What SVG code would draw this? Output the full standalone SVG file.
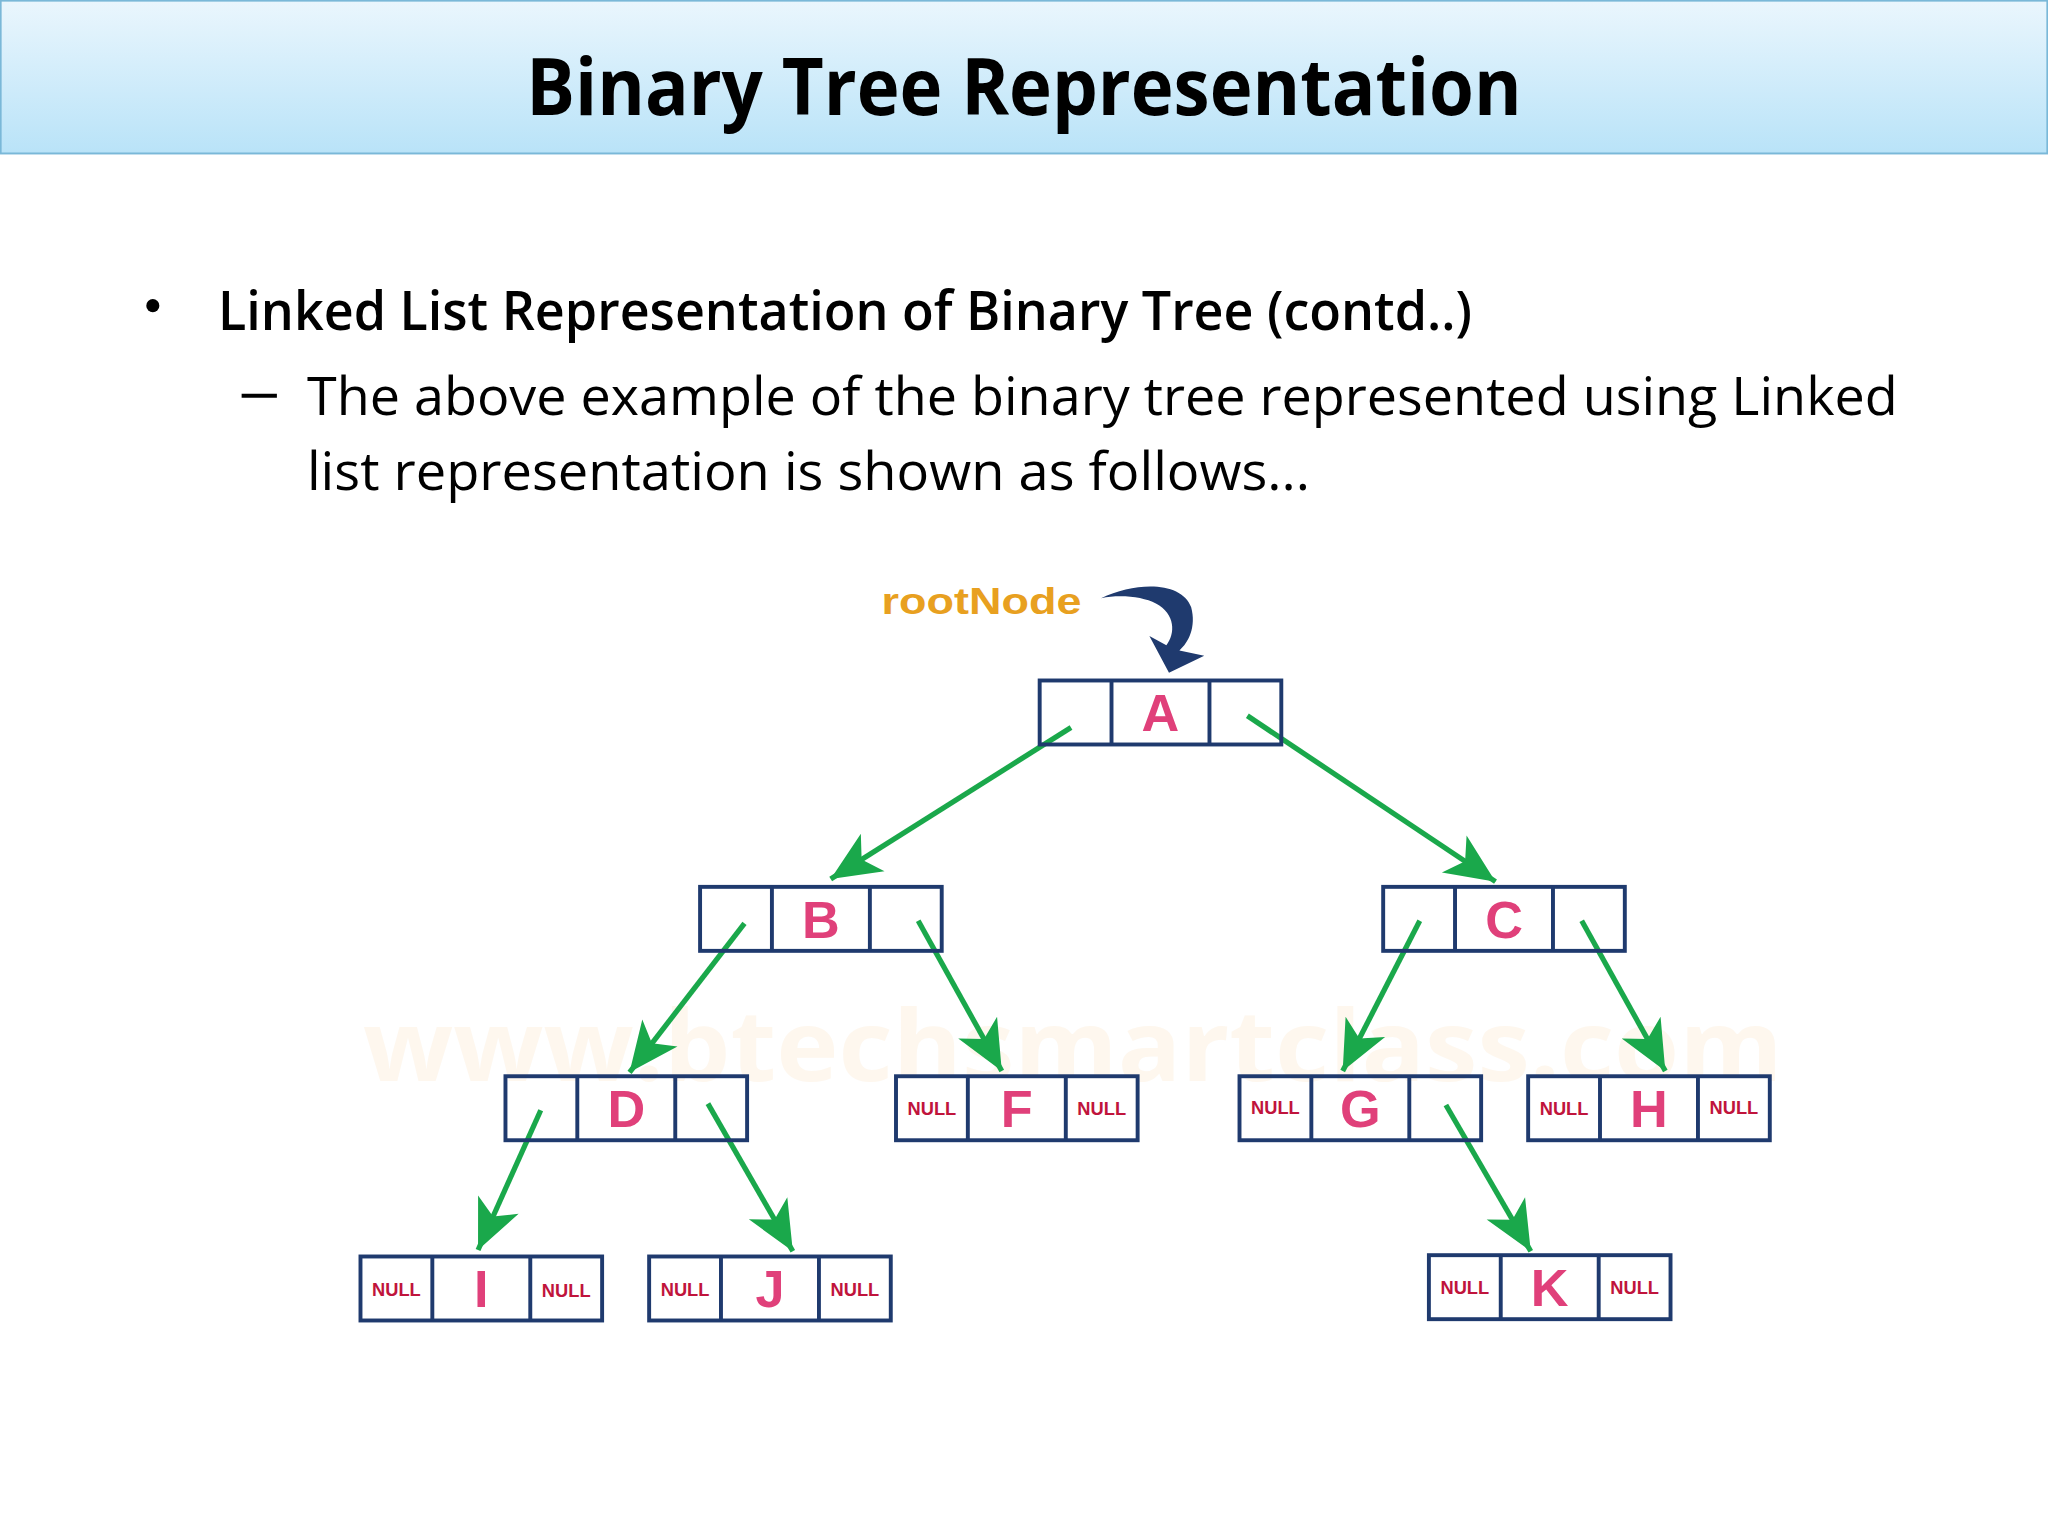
<svg xmlns="http://www.w3.org/2000/svg" width="2048" height="1536" viewBox="0 0 2048 1536">
<defs>
<linearGradient id="hdr" x1="0" y1="0" x2="0" y2="1"><stop offset="0" stop-color="#eaf6fd"/><stop offset="1" stop-color="#b9e3f8"/></linearGradient>
<marker id="ah" markerUnits="userSpaceOnUse" markerWidth="50" markerHeight="40" viewBox="-40 -20 50 40" refX="0" refY="0" orient="auto"><path d="M0,0 L-38,-17 L-28,0 L-38,17 Z" fill="#1aa84b"/></marker>
<style>
.box{fill:#fff;stroke:#1f3a6e;stroke-width:3}
.div{stroke:#1f3a6e;stroke-width:3}
.lt{font-family:"Liberation Sans",Arial,sans-serif;font-weight:bold;font-size:40px;fill:#e0407a;text-anchor:middle}
.nl{font-family:"Liberation Sans",Arial,sans-serif;font-weight:bold;font-size:14px;fill:#c0143c;text-anchor:middle}
.ed{stroke:#1aa84b;stroke-width:4;fill:none;marker-end:url(#ah)}
.tx{font-family:"Open Sans","Liberation Sans",sans-serif;fill:#000}
</style>
</defs>
<rect width="2048" height="1536" fill="#fff"/>
<g transform="scale(1.30612)">
<rect x="0.5" y="0.5" width="1567" height="117" fill="url(#hdr)" stroke="#7ab8d8" stroke-width="1.5"/>
<text class="tx" x="784" y="88" font-size="60" font-weight="bold" text-anchor="middle" textLength="762" lengthAdjust="spacingAndGlyphs">Binary Tree Representation</text>
<circle cx="117" cy="234" r="5" fill="#000"/>
<line x1="185" y1="303" x2="212" y2="303" stroke="#000" stroke-width="3"/>
<text class="tx" x="167" y="253" font-size="42" font-weight="600" textLength="960" lengthAdjust="spacingAndGlyphs">Linked List Representation of Binary Tree (contd..)</text>
<text class="tx" x="235" y="318" font-size="41" textLength="1218" lengthAdjust="spacingAndGlyphs">The above example of the binary tree represented using Linked</text>
<text class="tx" x="235" y="375" font-size="41" textLength="768" lengthAdjust="spacingAndGlyphs">list representation is shown as follows...</text>
<text x="278" y="828" font-family="'Open Sans',sans-serif" font-weight="bold" font-size="76" fill="#f8a030" opacity="0.08" textLength="1087" lengthAdjust="spacingAndGlyphs">www.btechsmartclass.com</text>
<text x="675" y="470" font-family="'Liberation Sans',sans-serif" font-weight="bold" font-size="28" fill="#e8a020" textLength="153" lengthAdjust="spacingAndGlyphs">rootNode</text>
<path d="M843,458 C870,445 905,445 912,465 C916,480 910,492 903,498 L922,502 L895,515 L880,487 L893,494 C900,485 900,470 885,462 C875,457 858,455 843,458 Z" fill="#1f3a6e"/>
<g id="edges">
<line class="ed" x1="820" y1="557" x2="636" y2="673"/>
<line class="ed" x1="955" y1="548" x2="1145" y2="675"/>
<line class="ed" x1="570" y1="707" x2="482" y2="821"/>
<line class="ed" x1="703" y1="705" x2="767" y2="820"/>
<line class="ed" x1="1087" y1="705" x2="1028" y2="820"/>
<line class="ed" x1="1211" y1="705" x2="1275" y2="820"/>
<line class="ed" x1="414" y1="850" x2="366" y2="957"/>
<line class="ed" x1="542" y1="845" x2="607" y2="958"/>
<line class="ed" x1="1107" y1="846" x2="1172" y2="958"/>
</g>
<g id="nodeA"><rect class="box" x="796" y="521" width="185" height="49" fill-opacity="0"/><line class="div" x1="851" y1="521" x2="851" y2="570"/><line class="div" x1="926" y1="521" x2="926" y2="570"/><text class="lt" x="888.5" y="560">A</text></g>
<g id="nodeB"><rect class="box" x="536" y="679" width="185" height="49" fill-opacity="0"/><line class="div" x1="591" y1="679" x2="591" y2="728"/><line class="div" x1="666" y1="679" x2="666" y2="728"/><text class="lt" x="628.5" y="718">B</text></g>
<g id="nodeC"><rect class="box" x="1059" y="679" width="185" height="49" fill-opacity="0"/><line class="div" x1="1114" y1="679" x2="1114" y2="728"/><line class="div" x1="1189" y1="679" x2="1189" y2="728"/><text class="lt" x="1151.5" y="718">C</text></g>
<g id="nodeD"><rect class="box" x="387" y="824" width="185" height="49" fill-opacity="0"/><line class="div" x1="442" y1="824" x2="442" y2="873"/><line class="div" x1="517" y1="824" x2="517" y2="873"/><text class="lt" x="479.5" y="863">D</text></g>
<g id="nodeF"><rect class="box" x="686" y="824" width="185" height="49"/><line class="div" x1="741" y1="824" x2="741" y2="873"/><line class="div" x1="816" y1="824" x2="816" y2="873"/><text class="nl" x="713.5" y="854">NULL</text><text class="lt" x="778.5" y="863">F</text><text class="nl" x="843.5" y="854">NULL</text></g>
<g id="nodeG"><rect class="box" x="949" y="824" width="185" height="49" fill-opacity="0"/><line class="div" x1="1004" y1="824" x2="1004" y2="873"/><line class="div" x1="1079" y1="824" x2="1079" y2="873"/><text class="nl" x="976.5" y="853">NULL</text><text class="lt" x="1041.5" y="863">G</text></g>
<g id="nodeH"><rect class="box" x="1170" y="824" width="185" height="49"/><line class="div" x1="1225" y1="824" x2="1225" y2="873"/><line class="div" x1="1300" y1="824" x2="1300" y2="873"/><text class="nl" x="1197.5" y="854">NULL</text><text class="lt" x="1262.5" y="863">H</text><text class="nl" x="1327.5" y="853">NULL</text></g>
<g id="nodeI"><rect class="box" x="276" y="962" width="185" height="49"/><line class="div" x1="331" y1="962" x2="331" y2="1011"/><line class="div" x1="406" y1="962" x2="406" y2="1011"/><text class="nl" x="303.5" y="992">NULL</text><text class="lt" x="368.5" y="1001">I</text><text class="nl" x="433.5" y="993">NULL</text></g>
<g id="nodeJ"><rect class="box" x="497" y="962" width="185" height="49"/><line class="div" x1="552" y1="962" x2="552" y2="1011"/><line class="div" x1="627" y1="962" x2="627" y2="1011"/><text class="nl" x="524.5" y="992">NULL</text><text class="lt" x="589.5" y="1001">J</text><text class="nl" x="654.5" y="992">NULL</text></g>
<g id="nodeK"><rect class="box" x="1094" y="961" width="185" height="49"/><line class="div" x1="1149" y1="961" x2="1149" y2="1010"/><line class="div" x1="1224" y1="961" x2="1224" y2="1010"/><text class="nl" x="1121.5" y="991">NULL</text><text class="lt" x="1186.5" y="1000">K</text><text class="nl" x="1251.5" y="991">NULL</text></g>
</g>
</svg>
